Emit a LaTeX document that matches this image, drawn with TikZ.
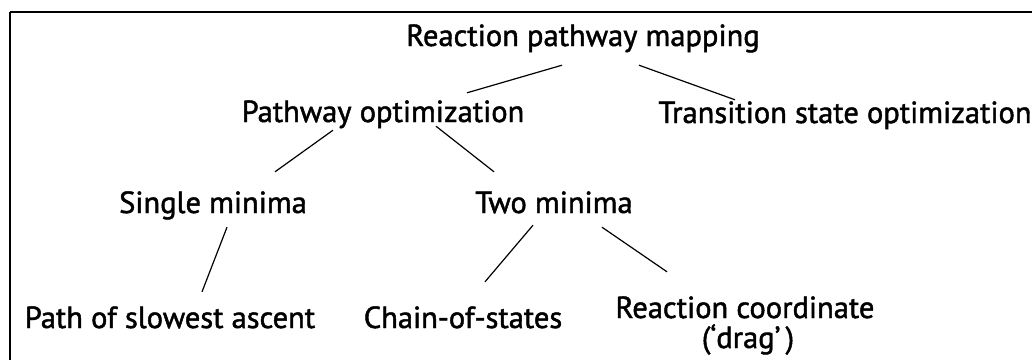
\documentclass[tikz,border=0pt]{standalone}
\usepackage{fontspec}
\setmainfont{PT Sans}[FakeBold=1.5]
\tikzset{
    term/.style={inner sep=0pt, anchor=base, text height=19pt, text depth=6pt, font=\fontsize{30.5}{36}\selectfont},
    link/.style={black, line width=1.2pt},
}
\begin{document}
\begin{tikzpicture}[x=1pt, y=-1pt]
            \useasboundingbox (0, 0) rectangle (1032, 360);
            \draw[black, line width=2pt] (10, 12) -- (1032, 12);
            \draw[black, line width=1.5pt] (10, 12) -- (10, 360);

            % Nodes
            \node[term] (root) at (583, 46) {Reaction pathway mapping};
            \node[term] (popt) at (383, 122) {Pathway optimization};
            \node[term] (tsopt) at (845, 123) {Transition state optimization};
            \node[term] (single) at (213, 213) {Single minima};
            \node[term] (two) at (554, 213) {Two minima};
            \node[term] (slow) at (170, 328) {Path of slowest ascent};
            \node[term] (chain) at (463, 328) {Chain-of-states};
            \node[term] (rc) at (745, 318) {Reaction coordinate};
            \node[term] (drag) at (748, 348) {(`drag'\,)};

            % Links
            \draw[link] ([xshift=-21pt, yshift=-13pt]root.south) -- ([xshift=84pt, yshift=10pt]popt.north);
            \draw[link] ([xshift=56pt, yshift=-13pt]root.south) -- ([xshift=-110pt, yshift=4pt]tsopt.north);
            \draw[link] ([xshift=-50pt, yshift=-2pt]popt.south) -- ([xshift=62pt, yshift=22pt]single.north);
            \draw[link] ([xshift=53pt, yshift=2pt]popt.south) -- ([xshift=-60pt, yshift=22pt]two.north);
            \draw[link] ([xshift=14pt, yshift=-8pt]single.south) -- ([xshift=32pt, yshift=17pt]slow.north);
            \draw[link] ([xshift=-21pt, yshift=-6pt]two.south) -- ([xshift=22pt, yshift=27pt]chain.north);
            \draw[link] ([xshift=48pt, yshift=-8pt]two.south) -- ([xshift=-78pt, yshift=27pt]rc.north);
\end{tikzpicture}
\end{document}
